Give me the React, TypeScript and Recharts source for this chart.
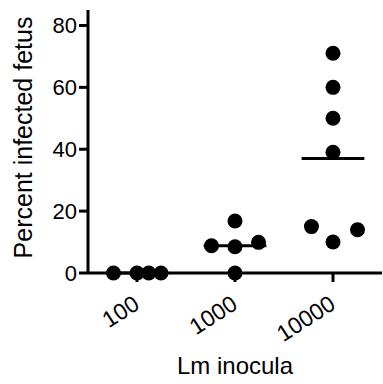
import {
  Label,
  ReferenceLine,
  Scatter,
  ScatterChart,
  XAxis,
  YAxis,
} from "recharts";

// Lm inocula groups and the percent of infected fetuses per dam.
const categories = ["100", "1000", "10000"];
const inoc100 = [0, 0, 0, 0];
const inoc1000 = [8.8, 16.8, 8.5, 0, 9.9];
const inoc10000 = [71, 60, 50, 39, 15, 10, 14];
// horizontal scatter offsets (category units) so points don't overlap
const jitter100 = [-0.24, 0, 0.12, 0.245];
const jitter1000 = [-0.24, 0, 0, 0, 0.24];
const jitter10000 = [0, 0, 0, 0, -0.22, 0, 0.25];
const yTicks = [0, 20, 40, 60, 80];

const groups = [
  { values: inoc100, jitter: jitter100 },
  { values: inoc1000, jitter: jitter1000 },
  { values: inoc10000, jitter: jitter10000 },
];

const points = groups.flatMap((g, i) =>
  g.values.map((v, j) => ({ x: i + g.jitter[j], y: v }))
);
const means = groups.map(
  (g) => g.values.reduce((a, b) => a + b, 0) / g.values.length
);

const FONT = "'Liberation Sans', Arial, Helvetica, sans-serif";
const INK = "#000";

const Dot = (p: any) => <circle cx={p.cx} cy={p.cy} r={7.5} fill={INK} />;

// slanted category labels, right end hanging just left of the tick
const XTick = ({ x, y, payload }: any) => {
  const tx = x - 5;
  const ty = y + 10;
  return (
    <text
      x={tx}
      y={ty}
      transform={`rotate(-33, ${tx}, ${ty})`}
      textAnchor="end"
      dy="0.71em"
      fill={INK}
      fontSize={23}
      fontFamily={FONT}
    >
      {categories[payload.value]}
    </text>
  );
};

// rotated y title, nudged a few px above the plot centre like the original
const YTitle = ({ viewBox }: any) => {
  const cx = viewBox.x + 23;
  const cy = viewBox.y + viewBox.height / 2 - 4;
  return (
    <text
      x={cx}
      y={cy}
      transform={`rotate(-90, ${cx}, ${cy})`}
      textAnchor="middle"
      dy="0.355em"
      fill={INK}
      fontSize={25}
      fontFamily={FONT}
    >
      Percent infected fetus
    </text>
  );
};

export default function App() {
  return (
    <div style={{ position: "absolute", left: 0, top: 0, fontFamily: FONT }}>
      <ScatterChart
        width={383}
        height={384}
        margin={{ top: 10, right: 1, bottom: 10, left: 0 }}
      >
        <XAxis
          type="number"
          dataKey="x"
          domain={[-0.5, 2.5]}
          ticks={[0, 1, 2]}
          height={101}
          tickSize={9}
          tick={<XTick />}
          axisLine={{ stroke: INK, strokeWidth: 3 }}
          tickLine={{ stroke: INK, strokeWidth: 3 }}
        >
          <Label
            value="Lm inocula"
            position="insideBottom"
            offset={0}
            fill={INK}
            fontSize={24}
            fontFamily={FONT}
          />
        </XAxis>
        <YAxis
          type="number"
          dataKey="y"
          domain={[0, 85]}
          ticks={yTicks}
          width={88}
          tickSize={9}
          tick={{ fill: INK, fontSize: 22, fontFamily: FONT }}
          axisLine={{ stroke: INK, strokeWidth: 3 }}
          tickLine={{ stroke: INK, strokeWidth: 3 }}
        >
          <Label content={YTitle} />
        </YAxis>
        {means.map((m, i) => (
          <ReferenceLine
            key={i}
            segment={[
              { x: i - 0.32, y: m },
              { x: i + 0.32, y: m },
            ]}
            stroke={INK}
            strokeWidth={3}
          />
        ))}
        <Scatter data={points} shape={Dot} isAnimationActive={false} />
      </ScatterChart>
    </div>
  );
}
